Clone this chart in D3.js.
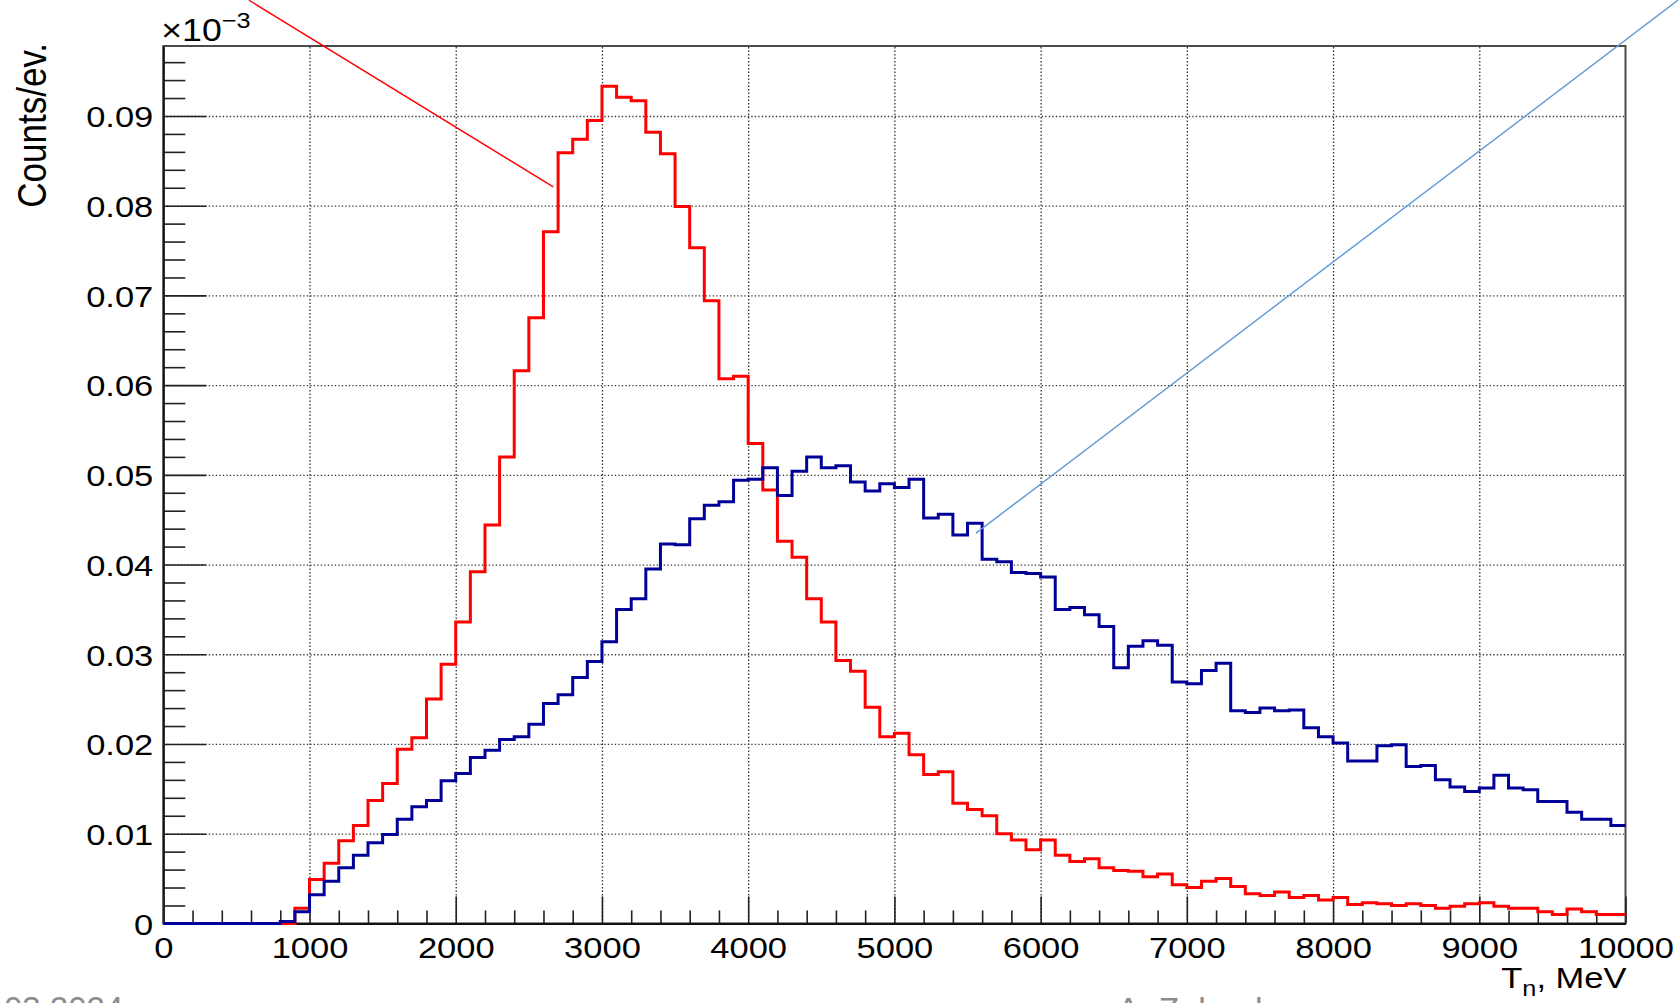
<!DOCTYPE html>
<html>
<head>
<meta charset="utf-8">
<script src="https://cdn.jsdelivr.net/npm/d3@7"></script>
<style>
  html, body { margin: 0; padding: 0; background: #fff; }
  svg { display: block; font-family: "Liberation Sans", Arial, Helvetica, sans-serif; }
</style>
</head>
<body>
<svg id="chart" width="1678" height="1003"></svg>
<script>
// Neutron kinetic energy spectra, 100 bins of 100 MeV from 0 to 10000 MeV.
// Values are in units of 10^-3 counts per event.
const binWidth = 100;
const energyRange = [0, 10000];

const redCounts = [
  0, 0, 0, 0, 0, 0, 0, 0, 0, 0.0017,
  0.0049, 0.0067, 0.0092, 0.0109, 0.0137, 0.0156, 0.0194, 0.0207, 0.0250, 0.0289,
  0.0336, 0.0392, 0.0444, 0.0520, 0.0616, 0.0675, 0.0771, 0.0859, 0.0874, 0.0895,
  0.0933, 0.0921, 0.0917, 0.0882, 0.0858, 0.0799, 0.0753, 0.0694, 0.0607, 0.0610,
  0.0535, 0.0483, 0.0426, 0.0408, 0.0362, 0.0336, 0.0293, 0.0281, 0.0241, 0.0208,
  0.0212, 0.0188, 0.0166, 0.0169, 0.0134, 0.0127, 0.0120, 0.0100, 0.0093, 0.0082,
  0.0093, 0.0076, 0.0069, 0.0072, 0.0062, 0.0059, 0.0058, 0.0052, 0.0055, 0.0043,
  0.0040, 0.0047, 0.0050, 0.0041, 0.0033, 0.0031, 0.0035, 0.0029, 0.0031, 0.0026,
  0.0029, 0.0021, 0.0023, 0.0022, 0.0020, 0.0022, 0.0020, 0.0017, 0.0019, 0.0022,
  0.0023, 0.0019, 0.0017, 0.0017, 0.0013, 0.0010, 0.0016, 0.0013, 0.0010, 0.0010
];

const blueCounts = [
  0, 0, 0, 0, 0, 0, 0, 0, 0.0002, 0.0013,
  0.0032, 0.0047, 0.0062, 0.0076, 0.0090, 0.0099, 0.0116, 0.0130, 0.0137, 0.0159,
  0.0167, 0.0185, 0.0193, 0.0205, 0.0208, 0.0222, 0.0245, 0.0255, 0.0274, 0.0292,
  0.0314, 0.0350, 0.0362, 0.0395, 0.0423, 0.0422, 0.0451, 0.0466, 0.0470, 0.0494,
  0.0495, 0.0508, 0.0477, 0.0504, 0.0520, 0.0508, 0.0510, 0.0492, 0.0482, 0.0490,
  0.0486, 0.0495, 0.0452, 0.0456, 0.0433, 0.0446, 0.0406, 0.0403, 0.0391, 0.0390,
  0.0386, 0.0350, 0.0352, 0.0344, 0.0331, 0.0285, 0.0309, 0.0315, 0.0310, 0.0269,
  0.0267, 0.0282, 0.0290, 0.0237, 0.0235, 0.0240, 0.0237, 0.0238, 0.0218, 0.0208,
  0.0201, 0.0181, 0.0181, 0.0198, 0.0199, 0.0175, 0.0176, 0.0160, 0.0152, 0.0147,
  0.0151, 0.0165, 0.0151, 0.0149, 0.0136, 0.0136, 0.0124, 0.0116, 0.0116, 0.0109
];

const xTicks = [0, 1000, 2000, 3000, 4000, 5000, 6000, 7000, 8000, 9000, 10000];
const xTickLabels = ["0", "1000", "2000", "3000", "4000", "5000", "6000", "7000", "8000", "9000", "10000"];
const yTicks = [0, 0.01, 0.02, 0.03, 0.04, 0.05, 0.06, 0.07, 0.08, 0.09];
const yTickLabels = ["0", "0.01", "0.02", "0.03", "0.04", "0.05", "0.06", "0.07", "0.08", "0.09"];
const yMax = 0.0978;

// Pointer lines from the slide annotations, in data units (they run past the frame)
const redPointer = [[586, 0.1029], [2667, 0.0821]];
const bluePointer = [[5558, 0.0435], [10358, 0.1029]];

const frame = { left: 163.3, right: 1625.5, top: 46, bottom: 923.4 };
const plotW = frame.right - frame.left;
const plotH = frame.bottom - frame.top;
// Lettering on the slide is slightly widened
const stretch = 1.15;
const labelSize = 30;

const svg = d3.select("#chart");

const x = d3.scaleLinear().domain(energyRange).range([frame.left, frame.right]);
const y = d3.scaleLinear().domain([0, yMax]).range([frame.bottom, frame.top]);

// Dotted grid at the major ticks
const gridX = svg.append("g")
  .attr("transform", `translate(0,${frame.bottom})`)
  .call(d3.axisBottom(x).tickValues(xTicks.slice(1, -1)).tickSize(-plotH).tickFormat(""));
const gridY = svg.append("g")
  .attr("transform", `translate(${frame.left},0)`)
  .call(d3.axisLeft(y).tickValues(yTicks.slice(1)).tickSize(-plotW).tickFormat(""));
[gridX, gridY].forEach(g => {
  g.select(".domain").remove();
  g.selectAll(".tick line")
    .attr("stroke", "#333")
    .attr("stroke-width", 1.3)
    .attr("stroke-dasharray", "1.3,2.2");
});

// Frame border
svg.append("rect")
  .attr("x", frame.left).attr("y", frame.top)
  .attr("width", plotW).attr("height", plotH)
  .attr("fill", "none")
  .attr("stroke", "#4a4a4a")
  .attr("stroke-width", 2);

// Y axis: major ticks with labels, minor ticks every 0.002
const yMinor = d3.range(0, yMax, 0.002).filter(v => yTicks.every(t => Math.abs(t - v) > 1e-6));
const yAxisMinor = svg.append("g")
  .attr("transform", `translate(${frame.left},0)`)
  .call(d3.axisLeft(y).tickValues(yMinor).tickSizeInner(-22).tickSizeOuter(0).tickFormat(""));
yAxisMinor.select(".domain").remove();

const yAxis = svg.append("g")
  .attr("transform", `translate(${frame.left},0)`)
  .call(d3.axisLeft(y).tickValues(yTicks).tickSizeInner(-43).tickSizeOuter(0).tickPadding(8.7)
    .tickFormat((d, i) => yTickLabels[i]));
yAxis.select(".domain").attr("stroke", "#111").attr("stroke-width", 2);
[yAxis, yAxisMinor].forEach(g => g.selectAll(".tick line").attr("stroke", "#222").attr("stroke-width", 1.6));
yAxis.selectAll(".tick text")
  .attr("font-size", labelSize)
  .attr("fill", "#000")
  .attr("dy", "0.36em")
  .attr("transform", `scale(${stretch},1)`);

// X axis: major ticks with labels, minor ticks every 200 MeV
const xMinor = d3.range(200, 10000, 200).filter(v => v % 1000 !== 0);
const xAxisMinor = svg.append("g")
  .attr("transform", `translate(0,${frame.bottom})`)
  .call(d3.axisBottom(x).tickValues(xMinor).tickSizeInner(-13).tickSizeOuter(0).tickFormat(""));
xAxisMinor.select(".domain").remove();

const xAxis = svg.append("g")
  .attr("transform", `translate(0,${frame.bottom})`)
  .call(d3.axisBottom(x).tickValues(xTicks).tickSizeInner(-27).tickSizeOuter(0).tickPadding(13.5)
    .tickFormat((d, i) => xTickLabels[i]));
xAxis.select(".domain").attr("stroke", "#111").attr("stroke-width", 2);
[xAxis, xAxisMinor].forEach(g => g.selectAll(".tick line").attr("stroke", "#222").attr("stroke-width", 1.6));
xAxis.selectAll(".tick text")
  .attr("font-size", labelSize)
  .attr("fill", "#000")
  .attr("transform", `scale(${stretch},1)`);

// Histograms drawn as step outlines, over the axis lines
const stepLine = d3.line()
  .x(d => x(d[0]))
  .y(d => y(d[1]))
  .curve(d3.curveStepAfter);

function histPoints(counts) {
  const pts = counts.map((v, i) => [energyRange[0] + i * binWidth, v]);
  pts.push([energyRange[0] + counts.length * binWidth, counts[counts.length - 1]]);
  return pts;
}

svg.append("path")
  .datum(histPoints(redCounts))
  .attr("d", stepLine)
  .attr("fill", "none")
  .attr("stroke", "#ff0000")
  .attr("stroke-width", 3)
  .attr("stroke-linejoin", "miter");

svg.append("path")
  .datum(histPoints(blueCounts))
  .attr("d", stepLine)
  .attr("fill", "none")
  .attr("stroke", "#000099")
  .attr("stroke-width", 3)
  .attr("stroke-linejoin", "miter");

// Exponent marker above the y axis
const expo = svg.append("text")
  .attr("transform", `translate(${frame.left - 2},41) scale(${stretch},1)`)
  .attr("font-size", 31)
  .attr("fill", "#000");
expo.append("tspan").text("\u00d710");
expo.append("tspan").attr("font-size", 22).attr("dy", -13).text("\u22123");

// Axis titles
svg.append("text")
  .attr("transform", `translate(46,${frame.top - 3}) scale(${stretch},1) rotate(-90)`)
  .attr("text-anchor", "end")
  .attr("font-size", 35)
  .attr("fill", "#000")
  .text("Counts/ev.");

const xTitle = svg.append("text")
  .attr("transform", `translate(${frame.right + 1},988) scale(${stretch},1)`)
  .attr("text-anchor", "end")
  .attr("font-size", 30)
  .attr("fill", "#000");
xTitle.append("tspan").text("T");
xTitle.append("tspan").attr("font-size", 22).attr("dy", 8).text("n");
xTitle.append("tspan").attr("dy", -8).text(", MeV");

// Annotation pointer lines
const pointerLine = d3.line().x(d => x(d[0])).y(d => y(d[1]));
svg.append("path")
  .datum(redPointer)
  .attr("d", pointerLine)
  .attr("stroke", "#ff0000")
  .attr("stroke-width", 1.4)
  .attr("fill", "none");
svg.append("path")
  .datum(bluePointer)
  .attr("d", pointerLine)
  .attr("stroke", "#5b9bd5")
  .attr("stroke-width", 1.4)
  .attr("fill", "none");

// Slide footer (mostly below the visible area)
svg.append("text")
  .attr("x", 4).attr("y", 1020)
  .attr("font-size", 33)
  .attr("fill", "#8c8c8c")
  .text("03.2024");
svg.append("text")
  .attr("x", 1117).attr("y", 1021)
  .attr("font-size", 34)
  .attr("fill", "#8c8c8c")
  .text("A. Zubenko");
</script>
</body>
</html>
